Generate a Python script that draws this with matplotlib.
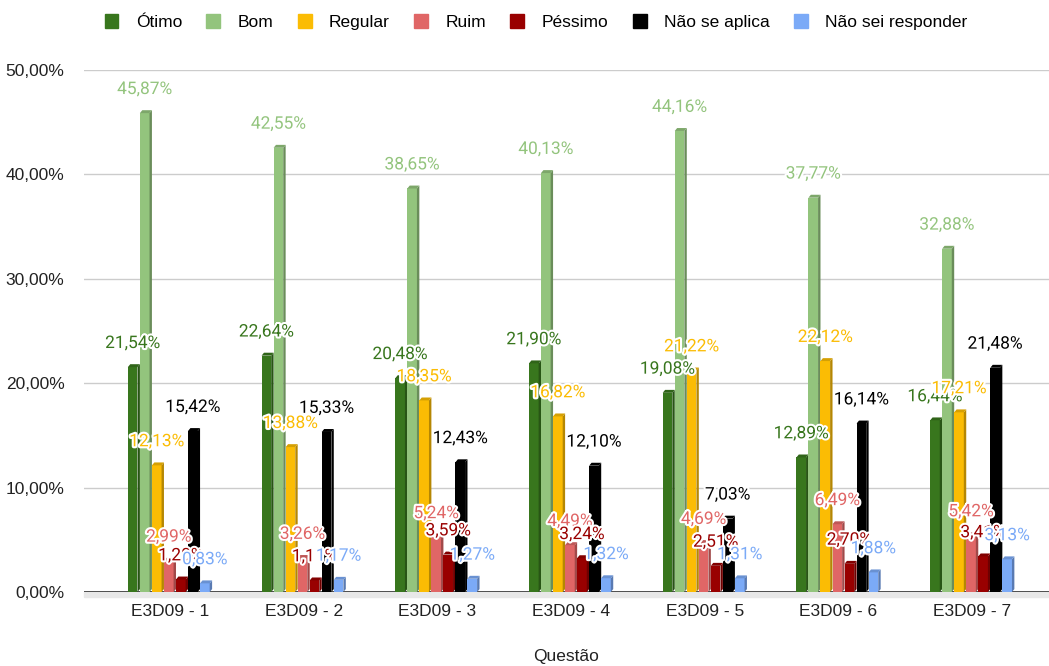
import numpy as np
import matplotlib.pyplot as plt
import matplotlib.patheffects as pe
from matplotlib.patches import Patch, Rectangle
from matplotlib.colors import to_rgb

questions = ["E3D09 - 1", "E3D09 - 2", "E3D09 - 3", "E3D09 - 4", "E3D09 - 5", "E3D09 - 6", "E3D09 - 7"]
series_names = ["Ótimo", "Bom", "Regular", "Ruim", "Péssimo", "Não se aplica", "Não sei responder"]
otimo = [21.54, 22.64, 20.48, 21.90, 19.08, 12.89, 16.44]
bom = [45.87, 42.55, 38.65, 40.13, 44.16, 37.77, 32.88]
regular = [12.13, 13.88, 18.35, 16.82, 21.22, 22.12, 17.21]
ruim = [2.99, 3.26, 5.24, 4.49, 4.69, 6.49, 5.42]
pessimo = [1.20, 1.11, 3.59, 3.24, 2.51, 2.70, 3.41]
nao_aplica = [15.42, 15.33, 12.43, 12.10, 7.03, 16.14, 21.48]
nao_sei = [0.83, 1.17, 1.27, 1.32, 1.31, 1.88, 3.13]
yticks = [0, 10, 20, 30, 40, 50]

data = [otimo, bom, regular, ruim, pessimo, nao_aplica, nao_sei]
colors = ["#38761d", "#93c47d", "#fbbc04", "#e06666", "#990000", "#000000", "#7baaf7"]

def pct(v):
    return f"{v:.2f}%".replace(".", ",")

def shade(c, f):
    r, g, b = to_rgb(c)
    return (r * f, g * f, b * f)

plt.rcParams['font.family'] = ['Liberation Sans', 'DejaVu Sans']
fig = plt.figure(figsize=(10.49, 6.66), dpi=100)
ax = fig.add_axes([84/1049, 74/666, 965/1049, 522/666])

slot = 0.09; front = 0.072; dx = 0.018; dy = 0.28
x = np.arange(len(questions))
for j, (vals, col) in enumerate(zip(data, colors)):
    left = x - 3.5*slot + j*slot
    ax.bar(left, vals, width=front, align='edge', color=col, zorder=3 + j)
    for xl, v in zip(left, vals):
        xr = xl + front
        ax.fill([xr, xr + dx, xr + dx, xr], [0, dy, v + dy, v], color=shade(col, 0.72), lw=0, zorder=3 + j)
        ax.fill([xl, xl + dx, xr + dx, xr], [v, v + dy, v + dy, v], color=shade(col, 0.85), lw=0, zorder=3 + j)
        ax.annotate(pct(v), (xl + front/2, v), xytext=(0, 17), textcoords='offset points',
                    ha='center', va='center', fontsize=12.5, color=col, family=['Roboto', 'DejaVu Sans'],
                    zorder=20 + j, path_effects=[pe.withStroke(linewidth=3, foreground='white')])

ax.set_xlim(-0.643, 6.574)
ax.set_ylim(0, 50)
ax.set_yticks(yticks)
ax.set_yticklabels([pct(t) for t in yticks], fontsize=12.5)
ax.set_xticks(x)
ax.set_xticklabels(questions, fontsize=12.5)
ax.tick_params(axis='both', length=0, colors='#222222')
ax.tick_params(axis='y', pad=14)
ax.tick_params(axis='x', pad=9)
for s in ax.spines.values():
    s.set_visible(False)
ax.grid(axis='y', color='#cccccc', lw=1, zorder=0)
ax.axhline(0, color='#333333', lw=1.2, zorder=2)
ax.add_patch(Rectangle((0, -0.45), 1, 0.45, transform=ax.get_yaxis_transform(),
                       color='#e8e8e8', clip_on=False, zorder=1))
ax.set_xlabel("Questão", fontsize=12.5, labelpad=21, color='#222222')

handles = [Patch(facecolor=c, edgecolor=c) for c in colors]
fig.legend(handles, series_names, loc='center', bbox_to_anchor=(536/1049, 1 - 22/666), ncol=7,
           frameon=False, fontsize=12.5, handlelength=0.8, handleheight=0.9,
           handletextpad=1.0, columnspacing=1.4)

fig.savefig("out.png", dpi=100)
